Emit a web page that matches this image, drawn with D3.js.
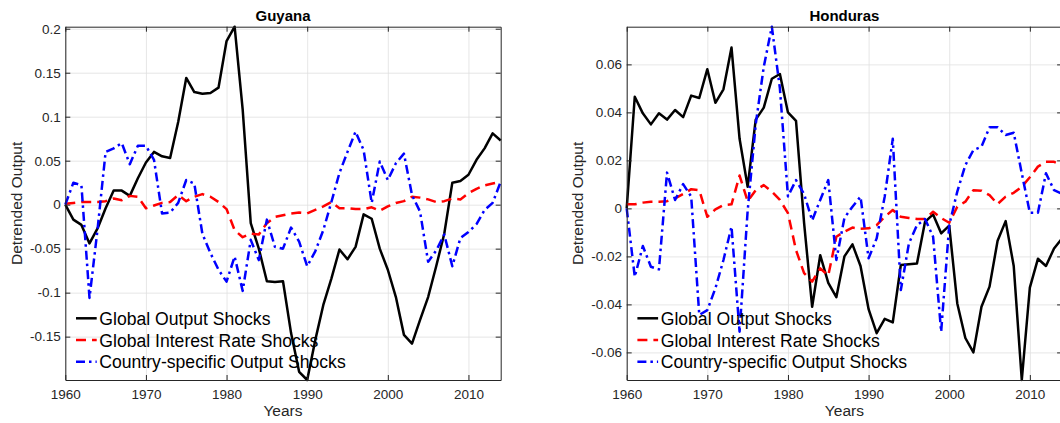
<!DOCTYPE html>
<html>
<head>
<meta charset="utf-8">
<script src="https://cdn.jsdelivr.net/npm/d3@7"></script>
<style>
  body { margin: 0; background: #fff; }
  svg { display: block; font-family: "Liberation Sans", Arial, Helvetica, sans-serif; }
</style>
</head>
<body>
<svg id="chart" width="1060" height="423"></svg>
<script>
// x values: one observation per year
var years = d3.range(1960, 2015);
var xTicks = [1960, 1970, 1980, 1990, 2000, 2010];

var seriesNames = ["Global Output Shocks", "Global Interest Rate Shocks", "Country-specific Output Shocks"];

// Guyana, 1960..2014
var guyanaGlobalOutput = [0, -0.017, -0.023, -0.044, -0.027, -0.004, 0.016, 0.016, 0.010, 0.030,
  0.048, 0.060, 0.055, 0.053, 0.094, 0.144, 0.128, 0.126, 0.127, 0.133,
  0.186, 0.2023, 0.108, -0.021, -0.050, -0.087, -0.088, -0.087, -0.146, -0.190,
  -0.1993, -0.154, -0.114, -0.084, -0.051, -0.062, -0.048, -0.011, -0.016, -0.050,
  -0.074, -0.105, -0.148, -0.158, -0.131, -0.105, -0.070, -0.033, 0.025, 0.027,
  0.034, 0.051, 0.064, 0.081, 0.073];
var guyanaInterestRate = [0.001, 0.002, 0.003, 0.003, 0.003, 0.004, 0.007, 0.005, 0.010, 0.009,
  -0.004, -0.001, 0.002, 0.003, 0.011, 0.004, 0.009, 0.012, 0.009, 0.003,
  -0.005, -0.029, -0.037, -0.033, -0.034, -0.021, -0.014, -0.012, -0.010, -0.009,
  -0.010, -0.006, -0.002, 0.003, -0.004, -0.004, -0.005, -0.005, -0.003, -0.007,
  -0.002, 0.002, 0.004, 0.009, 0.008, 0.006, 0.003, 0.004, 0.007, 0.006,
  0.013, 0.018, 0.022, 0.024, 0.026];
var guyanaCountry = [0, 0.025, 0.022, -0.106, -0.028, 0.060, 0.064, 0.070, 0.046, 0.067,
  0.067, 0.051, -0.010, -0.009, 0.002, 0.028, 0.024, -0.033, -0.055, -0.074,
  -0.0875, -0.059, -0.098, -0.040, -0.063, -0.017, -0.048, -0.050, -0.026, -0.042,
  -0.070, -0.053, -0.029, 0.003, 0.036, 0.060, 0.083, 0.062, 0.002, 0.049,
  0.028, 0.047, 0.058, 0.011, -0.008, -0.065, -0.052, -0.034, -0.070, -0.038,
  -0.031, -0.022, -0.006, 0.002, 0.026];

// Honduras, 1960..2014
var hondurasGlobalOutput = [0, 0.0465, 0.0396, 0.035, 0.0396, 0.037, 0.041, 0.038, 0.047, 0.046,
  0.058, 0.044, 0.0496, 0.067, 0.029, 0.009, 0.037, 0.042, 0.054, 0.056,
  0.040, 0.0365, -0.006, -0.041, -0.0195, -0.031, -0.037, -0.020, -0.015, -0.024,
  -0.042, -0.052, -0.046, -0.0475, -0.0236, -0.0233, -0.023, -0.0056, -0.0025, -0.0104,
  -0.0072, -0.0396, -0.054, -0.060, -0.041, -0.0326, -0.0135, -0.0053, -0.024, -0.0715,
  -0.033, -0.021, -0.024, -0.0167, -0.0125];
var hondurasInterestRate = [0.0017, 0.0017, 0.0024, 0.0028, 0.0028, 0.003, 0.0042, 0.006, 0.008, 0.0076,
  -0.0035, -0.0004, 0.0014, 0.0017, 0.0137, 0.003, 0.0076, 0.0097, 0.007, 0.0035,
  -0.002, -0.0174, -0.027, -0.0305, -0.025, -0.028, -0.0118, -0.0097, -0.008, -0.0085,
  -0.0083, -0.007, -0.0035, -0.0007, -0.0035, -0.004, -0.0044, -0.0044, -0.0014, -0.004,
  -0.006, 0.0007, 0.0028, 0.0076, 0.0074, 0.0055, 0.0018, 0.0049, 0.0065, 0.009,
  0.013, 0.0174, 0.0194, 0.0194, 0.018];
var hondurasCountry = [0, -0.0285, -0.0157, -0.0243, -0.0254, 0.0149, 0.0035, 0.0101, 0.0049, -0.0444,
  -0.0424, -0.0333, -0.0215, -0.0076, -0.0514, -0.001, 0.035, 0.059, 0.0757, 0.050,
  0.005, 0.0118, 0.006, -0.005, 0.0035, 0.0118, -0.0215, -0.004, 0.0007, 0.0049,
  -0.0208, -0.0125, 0.0049, 0.029, -0.034, -0.0146, -0.007, -0.0044, -0.0118, -0.0514,
  -0.007, 0.007, 0.018, 0.0243, 0.0257, 0.0338, 0.0338, 0.0306, 0.0315, 0.0146,
  -0.0018, -0.0018, 0.0146, 0.0076, 0.006];

var guyanaTicks = [-0.15, -0.1, -0.05, 0, 0.05, 0.1, 0.15, 0.2];
var guyanaTickLabels = ["-0.15", "-0.1", "-0.05", "0", "0.05", "0.1", "0.15", "0.2"];
var hondurasTicks = [-0.06, -0.04, -0.02, 0, 0.02, 0.04, 0.06];
var hondurasTickLabels = ["-0.06", "-0.04", "-0.02", "0", "0.02", "0.04", "0.06"];

var colors = ["#000000", "#ff0000", "#0000ff"];
var dashes = [null, "10,6", "9,4,2.5,4"];
var axisColor = "#262626";

var svg = d3.select("#chart");
var panelTop = 26.7, panelWidth = 435.4, panelHeight = 353.3;

function drawPanel(left, title, series, yTicks, yTickLabels) {
  var g = svg.append("g").attr("transform", "translate(" + left + "," + panelTop + ")");

  var x = d3.scaleLinear().domain([1960, 2014]).range([0, panelWidth]);
  // axis tight: the limits are the data range
  var y = d3.scaleLinear().domain(d3.extent(d3.merge(series))).range([panelHeight, 0]);

  // grid lines
  g.append("g").attr("class", "grid").attr("transform", "translate(0," + panelHeight + ")")
    .call(d3.axisBottom(x).tickValues(xTicks).tickSize(-panelHeight).tickFormat(""));
  g.append("g").attr("class", "grid")
    .call(d3.axisLeft(y).tickValues(yTicks).tickSize(-panelWidth).tickFormat(""));
  g.selectAll(".grid .domain").remove();
  g.selectAll(".grid line").attr("stroke", "#dfdfdf").attr("stroke-width", 0.8);

  // data lines
  var line = d3.line()
    .x(function (d, i) { return x(years[i]); })
    .y(function (d) { return y(d); });
  series.forEach(function (s, k) {
    g.append("path").datum(s)
      .attr("fill", "none")
      .attr("stroke", colors[k])
      .attr("stroke-width", 2.5)
      .attr("stroke-linejoin", "round")
      .attr("stroke-dasharray", dashes[k])
      .attr("d", line);
  });

  // box with inward ticks
  var fmtY = function (d) { return yTickLabels[yTicks.indexOf(d)]; };
  g.append("g").attr("class", "ax").attr("transform", "translate(0," + panelHeight + ")")
    .call(d3.axisBottom(x).tickValues(xTicks).tickSizeInner(-5).tickSizeOuter(0).tickPadding(9).tickFormat(d3.format("d")));
  g.append("g").attr("class", "ax")
    .call(d3.axisTop(x).tickValues(xTicks).tickSizeInner(-5).tickSizeOuter(0).tickFormat(""));
  g.append("g").attr("class", "ax")
    .call(d3.axisLeft(y).tickValues(yTicks).tickSizeInner(-5).tickSizeOuter(0).tickPadding(4.6).tickFormat(fmtY));
  g.append("g").attr("class", "ax").attr("transform", "translate(" + panelWidth + ",0)")
    .call(d3.axisRight(y).tickValues(yTicks).tickSizeInner(-5).tickSizeOuter(0).tickFormat(""));
  g.selectAll(".ax .domain").attr("stroke", axisColor).attr("stroke-width", 1);
  g.selectAll(".ax line").attr("stroke", axisColor).attr("stroke-width", 1);
  g.selectAll(".ax text").attr("fill", axisColor).style("font-size", "13.5px").style("font-family", null);

  // title and axis labels
  g.append("text").attr("x", panelWidth / 2).attr("y", -6.2)
    .attr("text-anchor", "middle").style("font-weight", "bold").style("font-size", "15px")
    .attr("fill", "#000").text(title);
  g.append("text").attr("x", panelWidth / 2).attr("y", 389.3)
    .attr("text-anchor", "middle").style("font-size", "15.5px").attr("fill", axisColor).text("Years");
  g.append("text").attr("transform", "rotate(-90)")
    .attr("x", -panelHeight / 2).attr("y", -43.3)
    .attr("text-anchor", "middle").style("font-size", "15.5px").attr("fill", axisColor).text("Detrended Output");

  // legend, no box
  var leg = g.append("g").attr("transform", "translate(10.7,291.6)");
  seriesNames.forEach(function (name, k) {
    var row = leg.append("g").attr("transform", "translate(0," + (k * 21.7) + ")");
    row.append("line").attr("x1", 0).attr("x2", 20.7).attr("y1", 0).attr("y2", 0)
      .attr("stroke", colors[k]).attr("stroke-width", 2.5).attr("stroke-dasharray", dashes[k]);
    row.append("text").attr("x", 23.3).attr("y", 6.5)
      .style("font-size", "17.6px").attr("fill", "#000").text(name);
  });
}

drawPanel(65.3, "Guyana", [guyanaGlobalOutput, guyanaInterestRate, guyanaCountry], guyanaTicks, guyanaTickLabels);
drawPanel(626.7, "Honduras", [hondurasGlobalOutput, hondurasInterestRate, hondurasCountry], hondurasTicks, hondurasTickLabels);
</script>
</body>
</html>
